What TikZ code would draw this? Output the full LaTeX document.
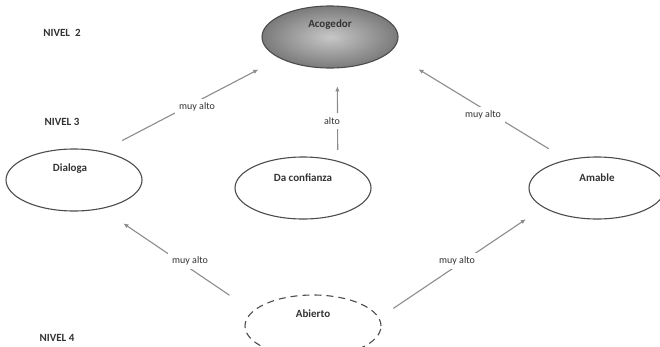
\documentclass[tikz,border=0pt]{standalone}
\usepackage{fontspec}
\setmainfont{Carlito}
\usetikzlibrary{shapes.geometric,arrows.meta}
\begin{document}
\begin{tikzpicture}[x=1pt,y=-1pt,
  nodo/.style={ellipse,draw=black!70,line width=1.1pt,minimum width=136pt,minimum height=62pt,inner sep=0pt},
  flecha/.style={draw=black!45,line width=1.1pt,-{Latex[length=5pt,width=4.5pt]}},
  etiq/.style={fill=white,inner sep=4pt,font=\fontsize{10}{12}\selectfont,text=black!80},
  titulo/.style={font=\fontsize{11}{13}\selectfont\bfseries,text=black!80}]
\clip (0,0) rectangle (660,346);
% niveles
\node[titulo] (n2) at (62,33) {NIVEL~~2};
\node[titulo] (n3) at (62,122) {NIVEL 3};
\node[titulo] (n4) at (57,338) {NIVEL 4};
% elipses
\node[nodo,inner color=black!22,outer color=black!52] (acogedor) at (330,37) {};
\node[nodo] (dialoga) at (74,180) {};
\node[nodo] (confianza) at (303,188) {};
\node[nodo] (amable) at (597,188) {};
\node[nodo,dashed,dash pattern=on 7pt off 5pt] (abierto) at (313,326) {};
\node[titulo] (tacogedor) at (330,25) {Acogedor};
\node[titulo] (tdialoga) at (70,169) {Dialoga};
\node[titulo] (tconfianza) at (303,178) {Da confianza};
\node[titulo] (tamable) at (597,178) {Amable};
\node[titulo] (tabierto) at (313,314) {Abierto};
% flechas
\draw[flecha,shorten <=23pt,shorten >=24pt] (dialoga.46) -- (acogedor.203);
\draw[flecha,shorten <=11pt,shorten >=18pt] (confianza.38) -- (acogedor.283);
\draw[flecha,shorten <=21pt,shorten >=33pt] (amable.137) -- (acogedor.346);
\draw[flecha,shorten <=28pt,shorten >=26pt] (abierto.166) -- (dialoga.314);
\draw[flecha,shorten <=17pt,shorten >=21pt] (abierto.7) -- (amable.200);
% etiquetas
\node[etiq] (e1) at (197,107) {muy alto};
\node[etiq] (e2) at (332,121) {alto};
\node[etiq] (e3) at (483,115) {muy alto};
\node[etiq] (e4) at (190,261) {muy alto};
\node[etiq] (e5) at (457,261) {muy alto};
\end{tikzpicture}
\end{document}
